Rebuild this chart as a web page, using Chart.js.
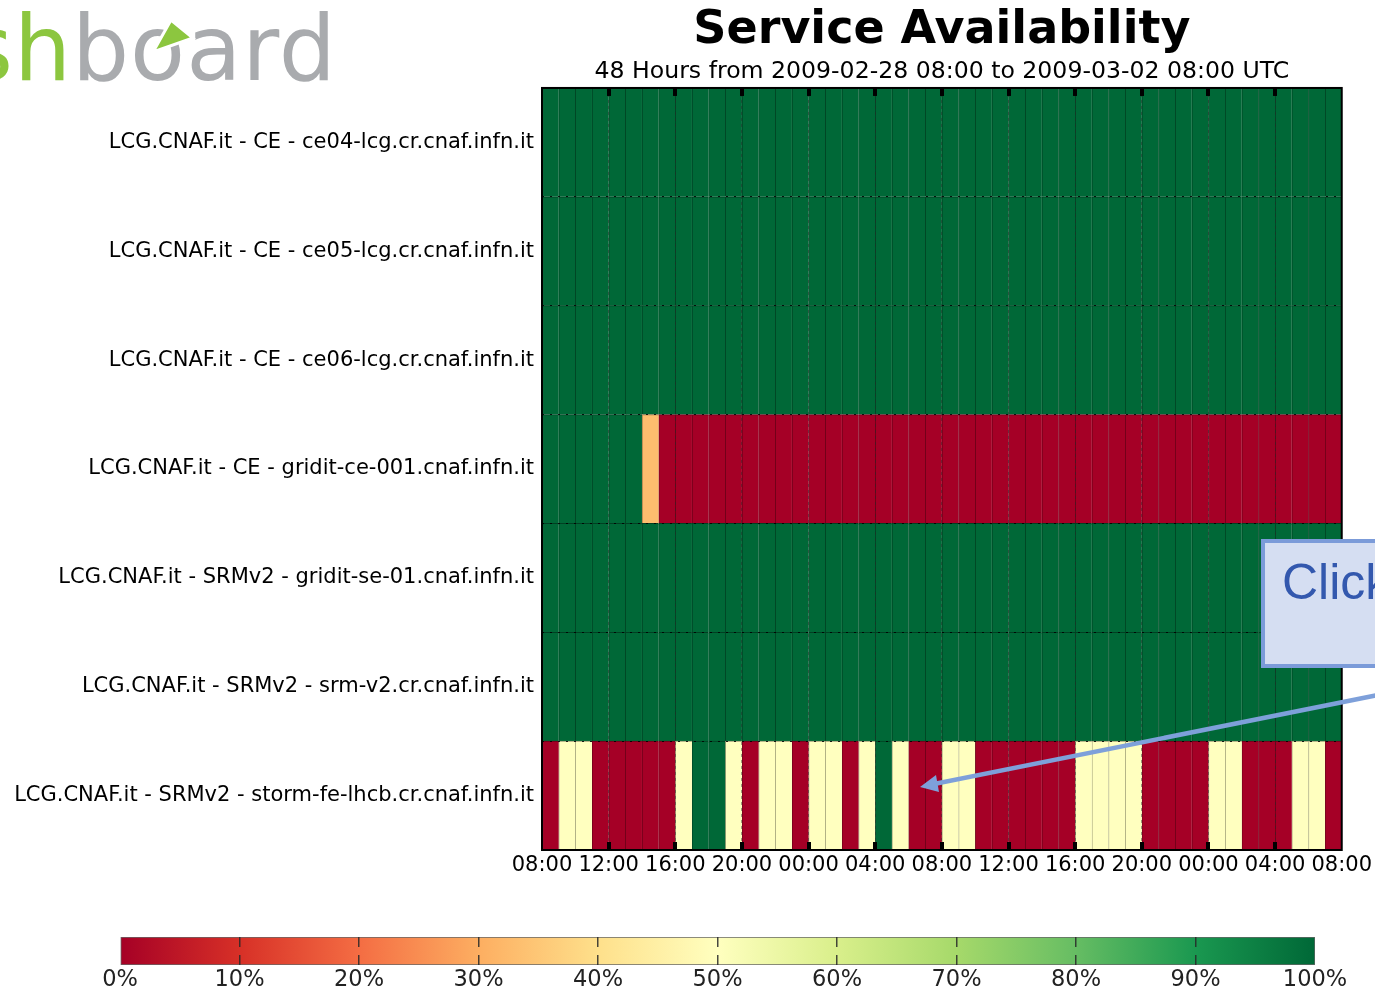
<!DOCTYPE html>
<html>
<head>
<meta charset="utf-8">
<script src="https://cdn.jsdelivr.net/npm/chart.js@4.4.1/dist/chart.umd.min.js"></script>
<style>
  html, body { margin: 0; padding: 0; background: #fff; }
  #wrap { position: relative; width: 1375px; height: 990px; overflow: hidden; }
  #main { position: absolute; left: 0; top: 0; }
  #scale { position: absolute; left: 0; top: 915px; }
  #logo {
    position: absolute; left: -34px; top: 4px;
    font: 90px "DejaVu Sans"; line-height: 1; letter-spacing: 1px; white-space: nowrap;
  }
  #logo .g { color: #8cc63f; }
  #logo .k { color: #a9abae; }
  #overlay { position: absolute; left: 0; top: 0; }
</style>
</head>
<body>
<div id="wrap">
  <canvas id="main" width="1375" height="900"></canvas>
  <canvas id="scale" width="1375" height="75"></canvas>
  <div id="logo"><span class="g">sh</span><span class="k">board</span></div>
  <svg id="overlay" width="1375" height="990">
    <polygon points="153,52 171,20 193,38" fill="#8cc63f" stroke="#fff" stroke-width="3"/>
    <rect x="1263" y="541" width="140" height="125" fill="#d5def2" stroke="#7b9bd9" stroke-width="4"/>
    <text x="1282" y="599" font-family="Liberation Sans" font-size="50" fill="#3358ae">Click</text>
    <line x1="1378" y1="695" x2="934" y2="784" stroke="#7ea0da" stroke-width="4.5"/>
    <polygon points="920,787 939,792 936,775" fill="#7ea0da"/>
  </svg>
</div>
<script>
const services = [
  'LCG.CNAF.it - CE - ce04-lcg.cr.cnaf.infn.it',
  'LCG.CNAF.it - CE - ce05-lcg.cr.cnaf.infn.it',
  'LCG.CNAF.it - CE - ce06-lcg.cr.cnaf.infn.it',
  'LCG.CNAF.it - CE - gridit-ce-001.cnaf.infn.it',
  'LCG.CNAF.it - SRMv2 - gridit-se-01.cnaf.infn.it',
  'LCG.CNAF.it - SRMv2 - srm-v2.cr.cnaf.infn.it',
  'LCG.CNAF.it - SRMv2 - storm-fe-lhcb.cr.cnaf.infn.it',
];

// hourly availability (%) per service, 2009-02-28 08:00 -> 2009-03-02 08:00
const ce04 = [100,100,100,100,100,100,100,100,100,100,100,100,100,100,100,100,100,100,100,100,100,100,100,100,
              100,100,100,100,100,100,100,100,100,100,100,100,100,100,100,100,100,100,100,100,100,100,100,100];
const ce05 = [100,100,100,100,100,100,100,100,100,100,100,100,100,100,100,100,100,100,100,100,100,100,100,100,
              100,100,100,100,100,100,100,100,100,100,100,100,100,100,100,100,100,100,100,100,100,100,100,100];
const ce06 = [100,100,100,100,100,100,100,100,100,100,100,100,100,100,100,100,100,100,100,100,100,100,100,100,
              100,100,100,100,100,100,100,100,100,100,100,100,100,100,100,100,100,100,100,100,100,100,100,100];
const griditCe = [100,100,100,100,100,100,33,0,0,0,0,0,0,0,0,0,0,0,0,0,0,0,0,0,
                  0,0,0,0,0,0,0,0,0,0,0,0,0,0,0,0,0,0,0,0,0,0,0,0];
const griditSe = [100,100,100,100,100,100,100,100,100,100,100,100,100,100,100,100,100,100,100,100,100,100,100,100,
                  100,100,100,100,100,100,100,100,100,100,100,100,100,100,100,100,100,100,100,100,100,100,100,100];
const srmV2 = [100,100,100,100,100,100,100,100,100,100,100,100,100,100,100,100,100,100,100,100,100,100,100,100,
               100,100,100,100,100,100,100,100,100,100,100,100,100,100,100,100,100,100,100,100,100,100,100,100];
const stormFe = [0,50,50,0,0,0,0,0,50,100,100,50,0,50,50,0,50,50,0,50,100,50,0,0,
                 50,50,0,0,0,0,0,0,50,50,50,50,0,0,0,0,50,50,0,0,0,50,50,0];

const timeLabels = ['08:00','12:00','16:00','20:00','00:00','04:00','08:00',
                    '12:00','16:00','20:00','00:00','04:00','08:00'];
const scaleTicks = [0,10,20,30,40,50,60,70,80,90,100];

const availability = [ce04, ce05, ce06, griditCe, griditSe, srmV2, stormFe];

// matplotlib RdYlGn
const RDYLGN = ['#a50026','#d73027','#f46d43','#fdae61','#fee08b','#ffffbf',
                '#d9ef8b','#a6d96a','#66bd63','#1a9850','#006837'];

function hexRgb(h) {
  return [1, 3, 5].map(i => parseInt(h.slice(i, i + 2), 16));
}

function rdylgnRgb(v) {
  const t = Math.max(0, Math.min(100, v)) / 10;
  const i = Math.min(9, Math.floor(t));
  const f = t - i;
  const a = hexRgb(RDYLGN[i]);
  const b = hexRgb(RDYLGN[i + 1]);
  return a.map((x, k) => Math.round(x + (b[k] - x) * f));
}

function rgb(c, k = 1) {
  return `rgb(${Math.round(c[0] * k)},${Math.round(c[1] * k)},${Math.round(c[2] * k)})`;
}

const FONT = '"DejaVu Sans", sans-serif';
const HOURS = ce04.length;

const frame = {
  id: 'frame',
  afterDraw(chart) {
    const { ctx, chartArea: a, scales: { x } } = chart;
    ctx.save();
    ctx.fillStyle = '#000';
    for (let v = 4; v < HOURS; v += 4) {
      const px = Math.round(x.getPixelForValue(v));
      ctx.fillRect(px - 2, a.top, 4, 8);
      ctx.fillRect(px - 2, a.bottom - 8, 4, 8);
    }
    ctx.lineWidth = 2;
    ctx.strokeStyle = '#000';
    ctx.strokeRect(a.left, a.top, a.width, a.height);
    ctx.restore();
  },
};

const datasets = [];
for (let h = 0; h < HOURS; h++) {
  datasets.push({
    data: services.map(() => [h, h + 1]),
    backgroundColor: availability.map(row => rgb(rdylgnRgb(row[h]))),
    borderColor: availability.map(row => rgb(rdylgnRgb(row[h]), 0.62)),
    borderWidth: { left: 1, top: 1, right: 0, bottom: 0 },
    borderSkipped: false,
    barPercentage: 1,
    categoryPercentage: 1,
    grouped: false,
  });
}

new Chart(document.getElementById('main'), {
  type: 'bar',
  data: { labels: services, datasets },
  options: {
    responsive: false,
    animation: false,
    indexAxis: 'y',
    layout: { padding: { left: 0, right: 33, top: 0, bottom: 0 } },
    plugins: {
      legend: { display: false },
      tooltip: { enabled: false },
      title: {
        display: true,
        fullSize: false,
        text: 'Service Availability',
        color: '#000',
        font: { family: FONT, size: 46, weight: 'bold', lineHeight: 1.2 },
        padding: { top: 3.5, bottom: 0 },
      },
      subtitle: {
        display: true,
        fullSize: false,
        text: '48 Hours from 2009-02-28 08:00 to 2009-03-02 08:00 UTC',
        color: '#000',
        font: { family: FONT, size: 23.6, lineHeight: 1.1 },
        padding: { top: 0, bottom: 3.3 },
      },
    },
    scales: {
      x: {
        type: 'linear',
        min: 0,
        max: HOURS,
        afterFit: s => { s.height = 50; },
        afterBuildTicks: s => { s.ticks = timeLabels.map((_, i) => ({ value: i * 4 })); },
        ticks: {
          autoSkip: false,
          maxRotation: 0,
          padding: 3,
          color: '#000',
          font: { family: FONT, size: 21 },
          callback: v => timeLabels[v / 4],
        },
        grid: {
          z: 1,
          drawTicks: false,
          color: 'rgba(40,40,40,0.45)',
          lineWidth: 1,
        },
        border: { display: false, dash: [3, 3] },
      },
      y: {
        afterFit: s => { s.width = 542; },
        ticks: {
          padding: 8,
          color: '#000',
          font: { family: FONT, size: 21 },
        },
        grid: {
          z: 1,
          offset: true,
          drawTicks: false,
          color: 'rgba(0,0,0,0.85)',
          lineWidth: 1,
        },
        border: { display: false, dash: [2, 6] },
      },
    },
  },
  plugins: [frame],
});

// colour scale bar
new Chart(document.getElementById('scale'), {
  type: 'bar',
  data: {
    labels: ['scale'],
    datasets: [{
      data: [[0, 100]],
      backgroundColor: ctx => {
        const a = ctx.chart.chartArea;
        if (!a) return RDYLGN[5];
        const g = ctx.chart.ctx.createLinearGradient(a.left, 0, a.right, 0);
        RDYLGN.forEach((c, i) => g.addColorStop(i / 10, c));
        return g;
      },
      borderColor: '#666',
      borderWidth: 1,
      borderSkipped: false,
      barPercentage: 1,
      categoryPercentage: 1,
    }],
  },
  options: {
    responsive: false,
    animation: false,
    indexAxis: 'y',
    layout: { padding: { left: 120, right: 60, top: 22, bottom: 0 } },
    plugins: { legend: { display: false }, tooltip: { enabled: false } },
    scales: {
      x: {
        type: 'linear',
        min: 0,
        max: 100,
        afterFit: s => { s.height = 25; },
        afterBuildTicks: s => { s.ticks = scaleTicks.map(v => ({ value: v })); },
        ticks: {
          padding: 2,
          maxRotation: 0,
          color: '#222',
          font: { family: FONT, size: 22.5 },
          callback: v => v + '%',
        },
        grid: {
          z: 1,
          drawTicks: false,
          color: c => (c.tick && c.tick.value % 100 === 0 ? 'rgba(0,0,0,0)' : 'rgba(40,40,40,0.85)'),
          lineWidth: 1.5,
        },
        border: { display: false, dash: [10, 8] },
      },
      y: { display: false },
    },
  },
});
</script>
</body>
</html>
